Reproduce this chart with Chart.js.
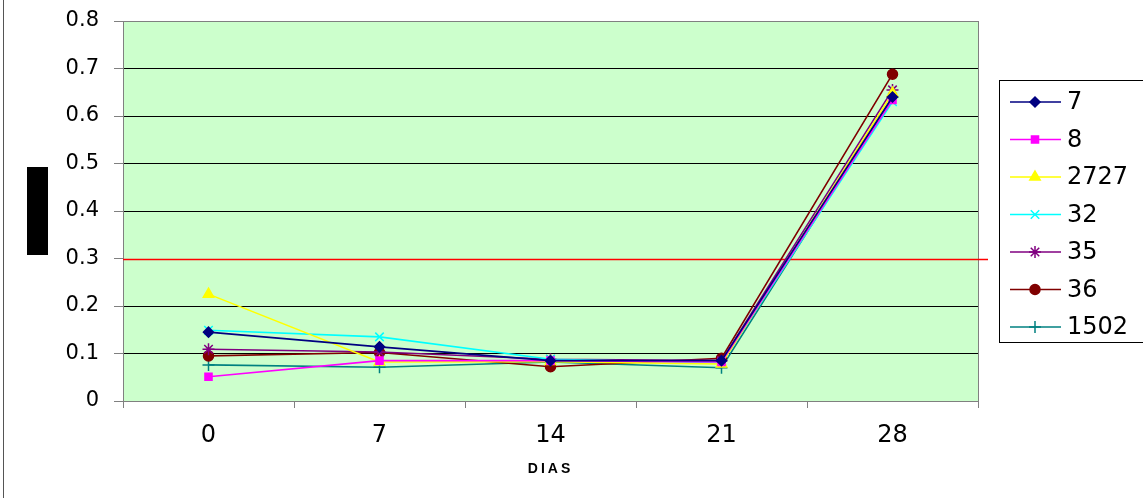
<!DOCTYPE html>
<html>
<head>
<meta charset="utf-8">
<script src="https://cdn.jsdelivr.net/npm/chart.js@4/dist/chart.umd.min.js"></script>
<style>
  html, body { margin: 0; padding: 0; background: #fff; }
  #wrap { width: 1143px; height: 498px; }
</style>
</head>
<body>
<div id="wrap"><canvas id="myChart" width="1143" height="498"></canvas></div>
<script>
// days on the x axis
const dias = ['0', '7', '14', '21', '28'];

// one array per sample
const s7    = [0.145, 0.114, 0.085, 0.085, 0.640];
const s8    = [0.051, 0.085, 0.085, 0.082, 0.634];
const s2727 = [0.225, 0.082, 0.083, 0.078, 0.648];
const s32   = [0.149, 0.135, 0.088, 0.080, 0.630];
const s35   = [0.109, 0.103, 0.088, 0.085, 0.655];
const s36   = [0.095, 0.102, 0.072, 0.090, 0.688];
const s1502 = [0.076, 0.071, 0.082, 0.070, 0.640];

const yTicks = [0, 0.1, 0.2, 0.3, 0.4, 0.5, 0.6, 0.7, 0.8];
const limite = 0.3;

const FONT = "'DejaVu Sans', 'Liberation Sans', Arial, sans-serif";
const FONT_TITLE = "'Liberation Sans', Arial, sans-serif";

function serie(label, values, color, style, radius) {
    return {
        label: label,
        data: values,
        borderColor: color,
        backgroundColor: color,
        pointBackgroundColor: color,
        pointBorderColor: color,
        pointStyle: style,
        pointRadius: radius,
        pointBorderWidth: 1.5,
        borderWidth: 1.6,
        tension: 0
    };
}

const data = {
    labels: dias,
    datasets: [
        serie('7', s7, '#000080', 'rectRot', 5),
        serie('8', s8, '#FF00FF', 'rect', 5),
        serie('2727', s2727, '#FFFF00', 'triangle', 6),
        serie('32', s32, '#00FFFF', 'crossRot', 6),
        serie('35', s35, '#800080', 'star', 6),
        serie('36', s36, '#800000', 'circle', 5),
        serie('1502', s1502, '#008080', 'cross', 6)
    ]
};

// green plot background, grey frame, red limit line, outer decorations, legend box
const decor = {
    id: 'decor',
    beforeDraw(chart) {
        const ctx = chart.ctx;
        const a = chart.chartArea;
        ctx.save();
        ctx.fillStyle = '#CCFFCC';
        ctx.fillRect(a.left, a.top, a.right - a.left, a.bottom - a.top);
        // left border of the page
        ctx.strokeStyle = '#555';
        ctx.lineWidth = 1;
        ctx.beginPath();
        ctx.moveTo(3.5, 0);
        ctx.lineTo(3.5, chart.height);
        ctx.stroke();
        // black block where the y title was
        ctx.fillStyle = '#000';
        ctx.fillRect(27, 167, 21, 88);
        ctx.restore();
    },
    beforeDatasetsDraw(chart) {
        const ctx = chart.ctx;
        const a = chart.chartArea;
        const y = Math.round(chart.scales.y.getPixelForValue(limite)) + 0.5;
        ctx.save();
        ctx.strokeStyle = '#808080';
        ctx.lineWidth = 1;
        ctx.strokeRect(a.left + 0.5, a.top + 0.5, a.right - a.left, a.bottom - a.top);
        ctx.strokeStyle = '#FF0000';
        ctx.lineWidth = 1.5;
        ctx.beginPath();
        ctx.moveTo(a.left, y);
        ctx.lineTo(a.right + 10, y);
        ctx.stroke();
        ctx.restore();
    },
    afterDraw(chart) {
        const ctx = chart.ctx;
        ctx.save();
        ctx.strokeStyle = '#000';
        ctx.lineWidth = 1;
        ctx.strokeRect(999.5, 80.5, 200, 262);
        ctx.font = '24px ' + FONT;
        ctx.textBaseline = 'middle';
        ctx.textAlign = 'left';
        chart.data.datasets.forEach(function (ds, i) {
            const yy = 102 + i * 37.5;
            ctx.strokeStyle = ds.borderColor;
            ctx.fillStyle = ds.borderColor;
            ctx.lineWidth = 1.6;
            ctx.beginPath();
            ctx.moveTo(1010, yy);
            ctx.lineTo(1061, yy);
            ctx.stroke();
            ctx.lineWidth = 1.5;
            Chart.helpers.drawPoint(ctx, {
                pointStyle: ds.pointStyle,
                radius: ds.pointRadius,
                rotation: 0,
                borderWidth: 1.5
            }, 1035, yy);
            ctx.fillStyle = '#000';
            ctx.fillText(ds.label, 1067, yy + 1);
        });
        ctx.restore();
    }
};

const config = {
    type: 'line',
    data: data,
    options: {
        responsive: false,
        animation: false,
        layout: {
            padding: { left: 0, right: 165, top: 21, bottom: 0 }
        },
        plugins: {
            legend: { display: false },
            tooltip: { enabled: false }
        },
        scales: {
            x: {
                offset: true,
                grid: {
                    offset: true,
                    drawOnChartArea: false,
                    tickLength: 7,
                    color: '#808080'
                },
                border: { color: '#404040', width: 1 },
                ticks: {
                    color: '#000',
                    padding: 13,
                    font: { family: FONT, size: 24 },
                    maxRotation: 0
                },
                title: {
                    display: true,
                    text: 'DIAS',
                    color: '#000',
                    font: { family: FONT_TITLE, size: 14, weight: 'bold' },
                    padding: { top: 8, bottom: 20 }
                },
                afterFit(scale) {
                    scale.height = 97;
                    scale.paddingLeft = 0;
                    scale.paddingRight = 0;
                    if (!scale._spaced) {
                        // Excel draws the axis title with spread-out letters
                        const orig = scale.drawTitle;
                        scale.drawTitle = function () {
                            this.ctx.save();
                            this.ctx.letterSpacing = '3px';
                            orig.apply(this, arguments);
                            this.ctx.restore();
                        };
                        scale._spaced = true;
                    }
                }
            },
            y: {
                min: 0,
                max: 0.8,
                afterBuildTicks(scale) {
                    scale.ticks = yTicks.map(function (v) { return { value: v }; });
                },
                grid: {
                    color: function (c) { return c.tick && c.tick.value === limite ? 'rgba(0,0,0,0)' : '#000'; },
                    tickColor: '#808080',
                    tickLength: 9,
                    lineWidth: 1
                },
                border: { color: '#404040', width: 1 },
                ticks: {
                    color: '#000',
                    padding: 15,
                    font: { family: FONT, size: 21 },
                    callback: function (v) { return String(Math.round(v * 10) / 10); }
                },
                afterFit(scale) {
                    scale.width = 123;
                    scale.paddingTop = 0;
                    scale.paddingBottom = 0;
                }
            }
        }
    },
    plugins: [decor]
};

const myChart = new Chart(document.getElementById('myChart'), config);
</script>
</body>
</html>
